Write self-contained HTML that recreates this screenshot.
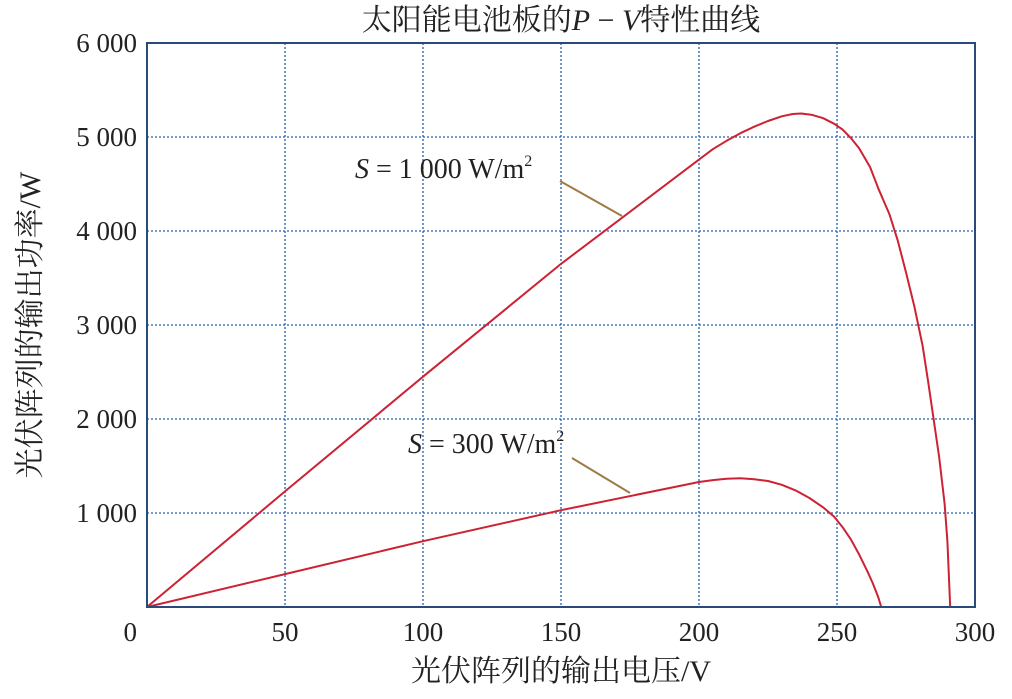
<!DOCTYPE html>
<html><head><meta charset="utf-8"><style>
body{margin:0;background:#fff;}
svg text{font-family:"Liberation Serif","Noto Serif CJK SC",serif;fill:#222;}
</style></head><body>
<svg width="1012" height="694" viewBox="0 0 1012 694" xmlns="http://www.w3.org/2000/svg">
<g id="grid"></g>
<g id="curves"></g>
<rect x="147" y="43" width="828" height="564" fill="none" stroke="#2a4a7a" stroke-width="2"/>
<g id="ticks"></g>
<text x="561" y="30" font-size="30" text-anchor="middle">太阳能电池板的<tspan font-style="italic">P</tspan> − <tspan font-style="italic">V</tspan>特性曲线</text>
<text x="561" y="681" font-size="30" text-anchor="middle">光伏阵列的输出电压/V</text>
<text transform="translate(40,325) rotate(-90)" font-size="30" text-anchor="middle">光伏阵列的输出功率/W</text>
<text x="355" y="178" font-size="28"><tspan font-style="italic">S</tspan> = 1 000 W/m<tspan font-size="16" dy="-12">2</tspan></text>
<line x1="560" y1="181" x2="622" y2="216" stroke="#a07a45" stroke-width="2"/>
<text x="408" y="453" font-size="28"><tspan font-style="italic">S</tspan> = 300 W/m<tspan font-size="16" dy="-12">2</tspan></text>
<line x1="572" y1="458" x2="630" y2="493" stroke="#a07a45" stroke-width="2"/>
</svg>
<script>
const xTicks=[0,50,100,150,200,250,300];
const yTicks=[1000,2000,3000,4000,5000,6000];
const yTickLabels=["1 000","2 000","3 000","4 000","5 000","6 000"];
const v1000=[0,50,100,150,200,205,210,215,220,225,230,234,237,241,245,249,252,255,258,262,265,269,272,275,278,281,283,285,287,289,290,291];
const p1000=[0,1230,2450,3650,4760,4870,4960,5040,5110,5170,5220,5245,5250,5235,5200,5140,5080,4990,4880,4680,4450,4180,3900,3560,3200,2780,2400,2000,1600,1100,700,0];
const v300=[0,50,100,150,200,205,210,215,220,225,230,235,240,245,249,252,255,258,261,263,265,266];
const p300=[0,350,700,1030,1330,1350,1365,1370,1360,1340,1300,1240,1160,1060,960,850,720,560,380,250,100,0];
const X=v=>147+v*(828/300), Y=p=>607-p*(564/6000);
const NS="http://www.w3.org/2000/svg";
const g=document.getElementById('grid'),t=document.getElementById('ticks'),c=document.getElementById('curves');
function mk(tag,a,parent){const e=document.createElementNS(NS,tag);for(const k in a)e.setAttribute(k,a[k]);parent.appendChild(e);return e;}
xTicks.forEach(v=>{
 if(v>0&&v<300){const l=mk('line',{x1:X(v),x2:X(v),y1:43,y2:607,stroke:'#2060b0','stroke-width':1.3,'stroke-dasharray':'2,2'},g);
 
 }
 if(v>0){const tx=mk('text',{x:X(v),y:641,'font-size':27,'text-anchor':'middle'},t);tx.textContent=v;
 
 }
});
yTicks.forEach((p,i)=>{
 if(p<6000){const l=mk('line',{x1:147,x2:975,y1:Y(p),y2:Y(p),stroke:'#2060b0','stroke-width':1.3,'stroke-dasharray':'2,2'},g);
 
 }
 const tx=mk('text',{x:137,y:Y(p)+9,'font-size':27,'text-anchor':'end'},t);tx.textContent=yTickLabels[i];
 
 
});
const z=mk('text',{x:137,y:641,'font-size':27,'text-anchor':'end'},t);z.textContent='0';


function curve(vs,ps,name){
 const d=vs.map((v,i)=>(i?'L':'M')+X(v).toFixed(1)+','+Y(ps[i]).toFixed(1)).join(' ');
 const p=mk('path',{d:d,fill:'none',stroke:'#cc2233','stroke-width':2,'stroke-linejoin':'round'},c);
 
 
}
curve(v1000,p1000,'curve-s1000');
curve(v300,p300,'curve-s300');
</script>
</body></html>
